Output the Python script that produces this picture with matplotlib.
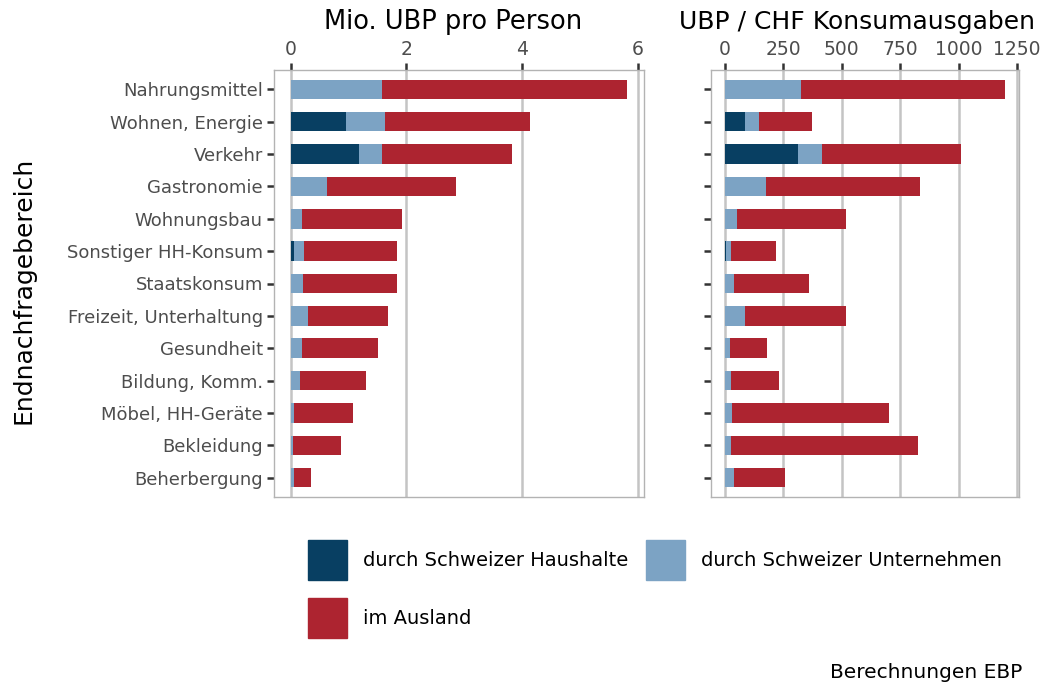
import matplotlib
matplotlib.use("Agg")
import matplotlib.pyplot as plt
from matplotlib.patches import Rectangle
import numpy as np

plt.rcParams['font.family'] = ['DejaVu Sans']

categories = ["Nahrungsmittel", "Wohnen, Energie", "Verkehr", "Gastronomie",
              "Wohnungsbau", "Sonstiger HH-Konsum", "Staatskonsum",
              "Freizeit, Unterhaltung", "Gesundheit", "Bildung, Komm.",
              "Möbel, HH-Geräte", "Bekleidung", "Beherbergung"]

series_names = ["durch Schweizer Haushalte", "durch Schweizer Unternehmen", "im Ausland"]

# Left panel: Mio. UBP pro Person
ubp_haushalte = [0.00, 0.95, 1.18, 0.00, 0.00, 0.06, 0.00, 0.01, 0.00, 0.00, 0.00, 0.00, 0.00]
ubp_unternehmen = [1.58, 0.68, 0.40, 0.62, 0.20, 0.16, 0.21, 0.28, 0.20, 0.155, 0.05, 0.03, 0.06]
ubp_ausland = [4.24, 2.50, 2.25, 2.24, 1.73, 1.61, 1.62, 1.39, 1.31, 1.145, 1.02, 0.84, 0.29]

# Right panel: UBP / CHF Konsumausgaben
chf_haushalte = [0, 84, 311, 0, 0, 4, 0, 0, 0, 0, 0, 0, 0]
chf_unternehmen = [325, 61, 104, 175, 51, 22, 37, 87, 21, 27, 30, 27, 37]
chf_ausland = [874, 229, 597, 658, 465, 193, 322, 429, 159, 204, 673, 800, 221]

left_ticks = [0, 2, 4, 6]
right_ticks = [0, 250, 500, 750, 1000, 1250]

colors = ["#083f62", "#7ca3c4", "#ad2430"]

W, H = 1051, 684
fig = plt.figure(figsize=(W / 100, H / 100), dpi=100)

def px_axes(x0, x1, y0, y1):
    return fig.add_axes([x0 / W, 1 - y1 / H, (x1 - x0) / W, (y1 - y0) / H])

axL = px_axes(274, 644, 70, 497)
axR = px_axes(711, 1019, 70, 497)

ypos = np.arange(1, len(categories) + 1)

def draw(ax, s1, s2, s3, ticks, show_labels):
    s1 = np.array(s1, float); s2 = np.array(s2, float); s3 = np.array(s3, float)
    ax.barh(ypos, s1, height=0.6, color=colors[0], zorder=3)
    ax.barh(ypos, s2, left=s1, height=0.6, color=colors[1], zorder=3)
    ax.barh(ypos, s3, left=s1 + s2, height=0.6, color=colors[2], zorder=3)
    total_max = (s1 + s2 + s3).max()
    ax.set_xlim(-0.05 * total_max, total_max * 1.05)
    ax.set_ylim(len(categories) + 0.6, 0.4)
    ax.xaxis.tick_top()
    ax.set_xticks(ticks)
    ax.set_xticklabels([str(t) for t in ticks])
    ax.set_yticks(ypos)
    if show_labels:
        ax.set_yticklabels(categories)
    else:
        ax.set_yticklabels([])
    ax.tick_params(axis='x', length=5, width=1.8, color="#333333", labelsize=13.5,
                   labelcolor="#4d4d4d", pad=3)
    ax.tick_params(axis='y', length=5, width=1.8, color="#333333", labelsize=13,
                   labelcolor="#4d4d4d", pad=3)
    ax.grid(axis='x', color="#c4c4c4", linewidth=1.8, zorder=0)
    ax.set_axisbelow(True)
    for sp in ax.spines.values():
        sp.set_color("#b3b3b3")
        sp.set_linewidth(1.0)

draw(axL, ubp_haushalte, ubp_unternehmen, ubp_ausland, left_ticks, True)
draw(axR, chf_haushalte, chf_unternehmen, chf_ausland, right_ticks, False)

fig.text(453 / W, 1 - 22 / H, "Mio. UBP pro Person", ha='center', va='center',
         fontsize=18.5, color="black")
fig.text(857 / W, 1 - 22 / H, "UBP / CHF Konsumausgaben", ha='center', va='center',
         fontsize=18, color="black")
fig.text(24 / W, 1 - 290 / H, "Endnachfragebereich", ha='center', va='center',
         rotation=90, fontsize=18, color="black")

# legend
lg = fig.add_axes([0, 0, 1, 1], zorder=-1)
lg.set_xlim(0, W); lg.set_ylim(H, 0); lg.axis('off')
legend_items = [(308, 540, 363, 0), (646, 540, 701, 1), (308, 598, 363, 2)]
for kx, ky, tx, i in legend_items:
    lg.add_patch(Rectangle((kx, ky), 39, 40, color=colors[i]))
    lg.text(tx, ky + 20, series_names[i], ha='left', va='center', fontsize=14,
            color="black")

fig.text(1022 / W, 1 - 672 / H, "Berechnungen EBP", ha='right', va='center',
         fontsize=14.5, color="black")

fig.savefig("out.png", dpi=100)
